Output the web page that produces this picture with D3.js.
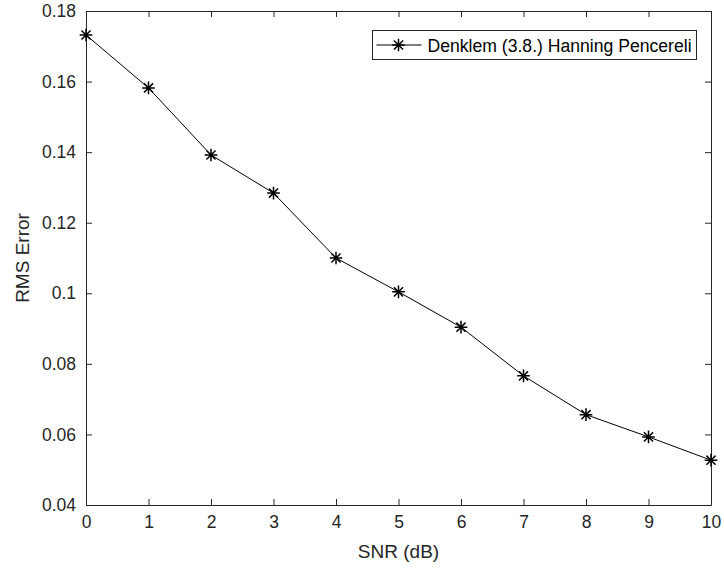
<!DOCTYPE html>
<html>
<head>
<meta charset="utf-8">
<script src="https://cdn.jsdelivr.net/npm/d3@7"></script>
<style>
  body { margin: 0; background: #fff; }
  svg text { font-family: "Liberation Sans", Arial, sans-serif; }
</style>
</head>
<body>
<div id="chart"></div>
<script>
// data
const snr = [0, 1, 2, 3, 4, 5, 6, 7, 8, 9, 10];
const rmsError = [0.1732, 0.1582, 0.1392, 0.1284, 0.1100, 0.1004, 0.0904, 0.0766, 0.0656, 0.0593, 0.0527];
const xTicks = [0, 1, 2, 3, 4, 5, 6, 7, 8, 9, 10];
const yTicks = [0.04, 0.06, 0.08, 0.1, 0.12, 0.14, 0.16, 0.18];
const seriesName = "Denklem (3.8.) Hanning Pencereli";

// MATLAB-style '*' marker: plus sign + x, eight arms
const starType = {
    draw(ctx, size) {
        const r = Math.sqrt(size) / 2;
        const d = r * 0.72;
        ctx.moveTo(-r, 0); ctx.lineTo(r, 0);
        ctx.moveTo(0, -r); ctx.lineTo(0, r);
        ctx.moveTo(-d, -d); ctx.lineTo(d, d);
        ctx.moveTo(-d, d); ctx.lineTo(d, -d);
    }
};

function drawChart() {
    const width = 724, height = 572;
    const m = { left: 86, right: 13, top: 11, bottom: 67 };
    const axisColor = "#262626";

    const svg = d3.select("#chart").append("svg")
        .attr("width", width)
        .attr("height", height);

    const x = d3.scaleLinear().domain([0, 10]).range([m.left, width - m.right]);
    const y = d3.scaleLinear().domain([0.04, 0.18]).range([height - m.bottom, m.top]);

    const fmtY = d => d === 0.1 ? "0.1" : d3.format(".2f")(d);

    // axes, ticks pointing inward like MATLAB
    const gx = svg.append("g")
        .attr("transform", `translate(0,${y(0.04)})`)
        .call(d3.axisBottom(x).tickValues(xTicks).tickSizeInner(-6).tickSizeOuter(0).tickPadding(11).tickFormat(d3.format("d")));
    const gxTop = svg.append("g")
        .attr("transform", `translate(0,${y(0.18)})`)
        .call(d3.axisTop(x).tickValues(xTicks).tickSizeInner(-6).tickSizeOuter(0).tickFormat(""));
    const gy = svg.append("g")
        .attr("transform", `translate(${x(0)},0)`)
        .call(d3.axisLeft(y).tickValues(yTicks).tickSizeInner(-6).tickSizeOuter(0).tickPadding(10).tickFormat(fmtY));
    const gyRight = svg.append("g")
        .attr("transform", `translate(${x(10)},0)`)
        .call(d3.axisRight(y).tickValues(yTicks).tickSizeInner(-6).tickSizeOuter(0).tickFormat(""));

    [gx, gxTop, gy, gyRight].forEach(g => {
        g.selectAll("path, line").attr("stroke", axisColor).attr("stroke-width", 1);
        g.selectAll("text").attr("fill", axisColor).style("font-size", "17.5px");
    });

    // axis labels
    svg.append("text")
        .attr("x", (x(0) + x(10)) / 2)
        .attr("y", 558)
        .attr("text-anchor", "middle")
        .attr("fill", axisColor)
        .style("font-size", "19px")
        .text("SNR (dB)");
    svg.append("text")
        .attr("transform", `translate(29,${(y(0.04) + y(0.18)) / 2}) rotate(-90)`)
        .attr("text-anchor", "middle")
        .attr("fill", axisColor)
        .style("font-size", "19px")
        .text("RMS Error");

    const pts = snr.map((s, i) => ({ s: s, v: rmsError[i] }));

    svg.append("path")
        .datum(pts)
        .attr("fill", "none")
        .attr("stroke", "#000")
        .attr("stroke-width", 1)
        .attr("d", d3.line().x(d => x(d.s)).y(d => y(d.v)));

    const star = d3.symbol().type(starType).size(160);
    svg.selectAll(".mk")
        .data(pts)
        .enter()
        .append("path")
        .attr("class", "mk")
        .attr("transform", d => `translate(${x(d.s)},${y(d.v)})`)
        .attr("d", star)
        .attr("fill", "none")
        .attr("stroke", "#000")
        .attr("stroke-width", 1.5);

    // legend
    const lg = svg.append("g").attr("transform", "translate(372.5,30.5)");
    lg.append("rect")
        .attr("width", 324).attr("height", 29)
        .attr("fill", "#fff")
        .attr("stroke", axisColor).attr("stroke-width", 1);
    lg.append("line")
        .attr("x1", 4).attr("x2", 49).attr("y1", 14.5).attr("y2", 14.5)
        .attr("stroke", "#000").attr("stroke-width", 1);
    lg.append("path")
        .attr("transform", "translate(26,14.5)")
        .attr("d", star)
        .attr("fill", "none")
        .attr("stroke", "#000")
        .attr("stroke-width", 1.5);
    lg.append("text")
        .attr("x", 55).attr("y", 21)
        .attr("fill", "#000")
        .style("font-size", "17.6px")
        .text(seriesName);
}

drawChart();
</script>
</body>
</html>
